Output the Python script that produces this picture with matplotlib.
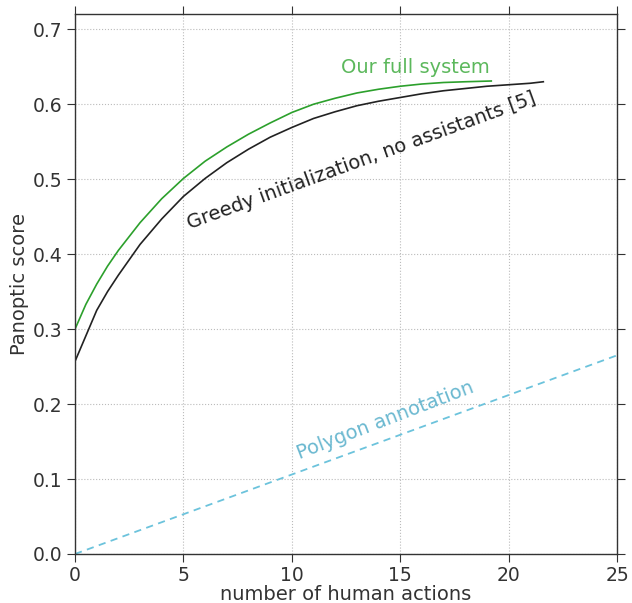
import matplotlib
matplotlib.use("Agg")
import matplotlib.pyplot as plt
import numpy as np

# number of human actions vs panoptic score
full_x = [0, 0.5, 1, 1.5, 2, 3, 4, 5, 6, 7, 8, 9, 10, 11, 12, 13, 14, 15, 16, 17, 18, 19.2]
full_y = [0.300, 0.333, 0.360, 0.384, 0.405, 0.442, 0.474, 0.501, 0.524, 0.543, 0.560,
          0.575, 0.589, 0.600, 0.608, 0.615, 0.620, 0.624, 0.627, 0.629, 0.630, 0.631]

greedy_x = [0, 1, 1.5, 2, 3, 4, 5, 6, 7, 8, 9, 10, 11, 12, 13, 14, 15, 16, 17, 18,
            19, 20, 21, 21.6]
greedy_y = [0.257, 0.325, 0.350, 0.372, 0.413, 0.447, 0.477, 0.501, 0.522, 0.540,
            0.556, 0.569, 0.581, 0.590, 0.598, 0.604, 0.609, 0.614, 0.618, 0.621,
            0.624, 0.626, 0.628, 0.630]

poly_x = [0, 25]
poly_y = [0.0, 0.265]

xticks = [0, 5, 10, 15, 20, 25]
yticks = [0.0, 0.1, 0.2, 0.3, 0.4, 0.5, 0.6, 0.7]

fs = 14
fig = plt.figure(figsize=(6.32, 6.03), dpi=100)
ax = fig.add_axes([0.1187, 0.0813, 0.8576, 0.895])

ax.plot(full_x, full_y, color='#2ca02c', lw=1.2)
ax.plot(greedy_x, greedy_y, color='#222222', lw=1.2)
ax.plot(poly_x, poly_y, color='#6cc3dc', lw=1.3, ls='--', dashes=(4, 3))

ax.text(15.7, 0.649, 'Our full system', color='#5cb85c', fontsize=fs,
        ha='center', va='center')
ax.text(13.2, 0.525, 'Greedy initialization, no assistants [5]', color='#222222',
        fontsize=fs, ha='center', va='center', rotation=20, rotation_mode='anchor')
ax.text(14.3, 0.178, 'Polygon annotation', color='#6ab8d0', fontsize=fs,
        ha='center', va='center', rotation=21, rotation_mode='anchor')

ax.set_xlim(0, 25)
ax.set_ylim(0, 0.72)
ax.set_xticks(xticks)
ax.set_yticks(yticks)
ax.set_xticklabels([str(t) for t in xticks])
ax.set_yticklabels(['%.1f' % t for t in yticks])
ax.tick_params(direction='out', top=True, right=True, labelsize=13.5,
               colors='#333333', length=6, pad=3)
ax.grid(True, ls=':', color='#bbbbbb', lw=0.8)
for s in ax.spines.values():
    s.set_color('#333333')
    s.set_linewidth(1.0)

ax.set_xlabel('number of human actions', fontsize=fs, color='#333333', labelpad=0)
ax.set_ylabel('Panoptic score', fontsize=fs, color='#333333', labelpad=3)

fig.savefig('out.png', dpi=100)
